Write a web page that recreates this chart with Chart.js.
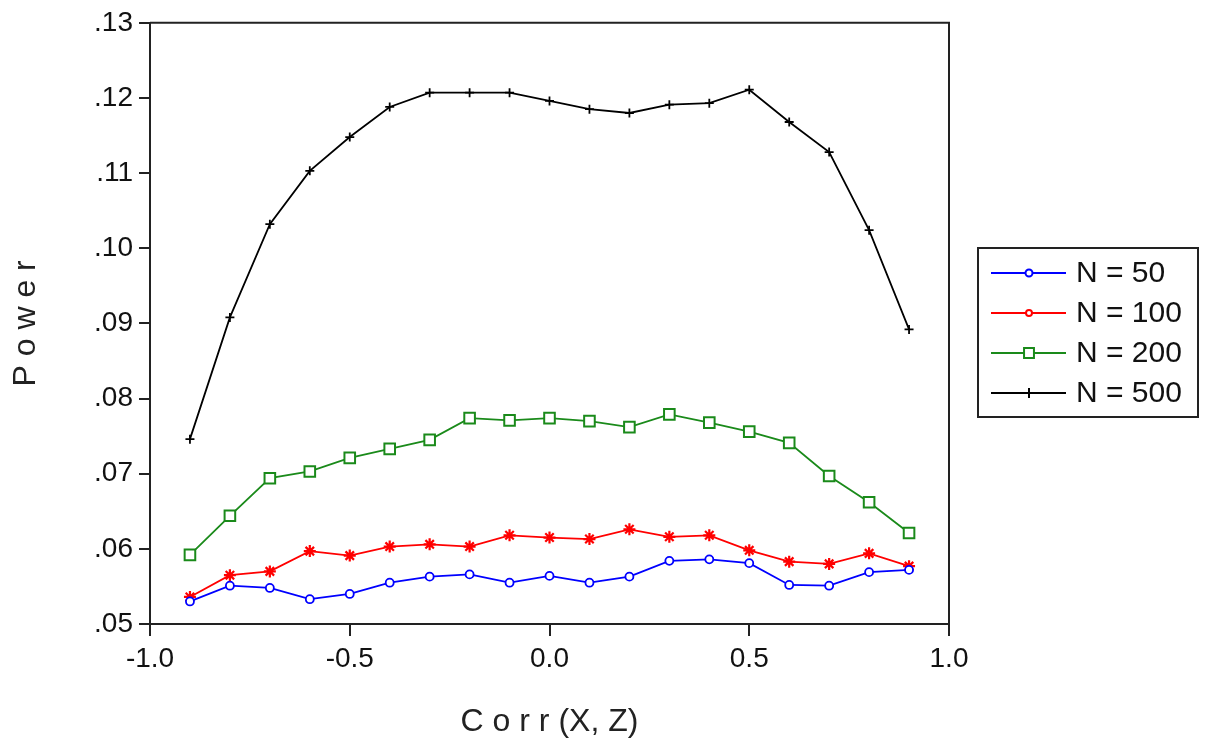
<!DOCTYPE html>
<html>
<head>
<meta charset="utf-8">
<script src="https://cdn.jsdelivr.net/npm/chart.js@4/dist/chart.umd.min.js"></script>
<style>
  html, body { margin: 0; padding: 0; background: #fff; }
  #wrap { width: 1208px; height: 746px; position: relative; }
</style>
</head>
<body>
<div id="wrap"><canvas id="chart"></canvas></div>
<script>
// values
const corr = [-0.9, -0.8, -0.7, -0.6, -0.5, -0.4, -0.3, -0.2, -0.1, 0.0,
              0.1, 0.2, 0.3, 0.4, 0.5, 0.6, 0.7, 0.8, 0.9];
const n50  = [0.0530, 0.0551, 0.0548, 0.0533, 0.0540, 0.0555, 0.0563, 0.0566, 0.0555, 0.0564,
              0.0555, 0.0563, 0.0584, 0.0586, 0.0581, 0.0552, 0.0551, 0.0569, 0.0572];
const n100 = [0.0536, 0.0565, 0.0570, 0.0597, 0.0591, 0.0603, 0.0606, 0.0603, 0.0618, 0.0615,
              0.0613, 0.0626, 0.0616, 0.0618, 0.0598, 0.0583, 0.0580, 0.0594, 0.0577];
const n200 = [0.0592, 0.0644, 0.0694, 0.0703, 0.0721, 0.0733, 0.0745, 0.0774, 0.0771, 0.0774,
              0.0770, 0.0762, 0.0779, 0.0768, 0.0756, 0.0741, 0.0697, 0.0662, 0.0621];
const n500 = [0.0746, 0.0908, 0.1032, 0.1103, 0.1148, 0.1188, 0.1207, 0.1207, 0.1207, 0.1196,
              0.1185, 0.1180, 0.1191, 0.1193, 0.1211, 0.1168, 0.1128, 0.1024, 0.0892];
const seriesNames = ['N = 50', 'N = 100', 'N = 200', 'N = 500'];
const xTicks = [-1.0, -0.5, 0.0, 0.5, 1.0];
const yTicks = [0.05, 0.06, 0.07, 0.08, 0.09, 0.10, 0.11, 0.12, 0.13];

const FONT = '"Liberation Sans", Arial, sans-serif';

const toPoints = (vals) => vals.map((v, i) => ({ x: corr[i], y: v }));

// top and right edges of the frame (left/bottom come from the axes)
const framePlugin = {
  id: 'frame',
  afterDraw(chart) {
    const { ctx, chartArea: a } = chart;
    ctx.save();
    ctx.strokeStyle = '#222';
    ctx.lineWidth = 2;
    ctx.beginPath();
    ctx.moveTo(a.left, a.top);
    ctx.lineTo(a.right, a.top);
    ctx.lineTo(a.right, a.bottom);
    ctx.stroke();
    ctx.restore();
  }
};

// boxed legend on the right, like the SPSS output
const boxLegend = {
  id: 'boxLegend',
  afterDraw(chart) {
    const ctx = chart.ctx;
    const box = { x: 978, y: 248, w: 220, h: 169 };
    ctx.save();
    ctx.strokeStyle = '#222';
    ctx.lineWidth = 2;
    ctx.strokeRect(box.x, box.y, box.w, box.h);
    ctx.font = '30px ' + FONT;
    ctx.textBaseline = 'middle';
    chart.data.datasets.forEach((ds, i) => {
      const y = 273 + i * 40;
      ctx.strokeStyle = ds.borderColor;
      ctx.lineWidth = 2;
      ctx.beginPath();
      ctx.moveTo(991, y);
      ctx.lineTo(1066, y);
      ctx.stroke();
      ctx.fillStyle = '#ffffff';
      ctx.strokeStyle = ds.borderColor;
      ctx.lineWidth = 2;
      Chart.helpers.drawPoint(ctx, {
        pointStyle: ds.legendStyle,
        radius: ds.legendRadius,
        rotation: ds.legendRotation || 0,
        borderWidth: 2
      }, 1029, y);
      ctx.fillStyle = '#111';
      ctx.fillText(ds.label, 1076, y + 1);
    });
    ctx.restore();
  }
};

const styles = [
  { color: '#0000ff', style: 'circle', radius: 4,   border: 1.8, lstyle: 'circle', lradius: 3.5 },
  { color: '#ff0000', style: 'star',   radius: 6,   border: 2.2, lstyle: 'circle', lradius: 3 },
  { color: '#1a8a1a', style: 'rect',   radius: 7.5, border: 2,   lstyle: 'rect',   lradius: 7 },
  { color: '#000000', style: 'cross',  radius: 4.5, border: 1.8, lstyle: 'line',   lradius: 5 }
];
const allValues = [n50, n100, n200, n500];

const datasets = allValues.map((vals, i) => {
  const s = styles[i];
  return {
    label: seriesNames[i],
    data: toPoints(vals),
    borderColor: s.color,
    backgroundColor: '#ffffff',
    borderWidth: 1.8,
    pointStyle: s.style,
    pointRadius: s.radius,
    pointBorderWidth: s.border,
    pointBorderColor: s.color,
    pointBackgroundColor: '#ffffff',
    legendStyle: s.lstyle,
    legendRadius: s.lradius,
    tension: 0
  };
});
// legend marker for N = 500 is a small vertical tick
datasets[3].legendRotation = 90;

const ctx = document.getElementById('chart').getContext('2d');
new Chart(ctx, {
  type: 'line',
  data: { datasets },
  plugins: [framePlugin, boxLegend],
  options: {
    responsive: true,
    maintainAspectRatio: false,
    animation: false,
    layout: { padding: { top: 22, right: 259, left: 0, bottom: 0 } },
    plugins: {
      legend: { display: false },
      tooltip: { enabled: false }
    },
    scales: {
      x: {
        type: 'linear',
        min: -1, max: 1,
        afterFit: (scale) => { scale.height = 122; },
        afterBuildTicks: (scale) => { scale.ticks = xTicks.map(v => ({ value: v })); },
        ticks: {
          color: '#111',
          font: { family: FONT, size: 28 },
          padding: 6,
          maxRotation: 0,
          callback: (v) => Number(v).toFixed(1)
        },
        grid: { drawOnChartArea: false, drawTicks: true, tickLength: 12, color: '#222', lineWidth: 2 },
        border: { display: true, color: '#222', width: 2 },
        title: {
          display: true,
          text: 'C o r r (X, Z)',
          color: '#222',
          font: { family: FONT, size: 32 },
          padding: { top: 0, bottom: 5 }
        }
      },
      y: {
        type: 'linear',
        min: 0.05, max: 0.13,
        afterFit: (scale) => { scale.width = 150; },
        afterBuildTicks: (scale) => { scale.ticks = yTicks.map(v => ({ value: v })); },
        ticks: {
          color: '#111',
          font: { family: FONT, size: 28 },
          padding: 6,
          callback: (v) => Number(v).toFixed(2).replace(/^0/, '')
        },
        grid: { drawOnChartArea: false, drawTicks: true, tickLength: 11, color: '#222', lineWidth: 2 },
        border: { display: true, color: '#222', width: 2 },
        title: {
          display: true,
          text: 'P o w e r',
          color: '#222',
          font: { family: FONT, size: 32 },
          padding: { top: 7, bottom: 0 }
        }
      }
    }
  }
});
</script>
</body>
</html>
